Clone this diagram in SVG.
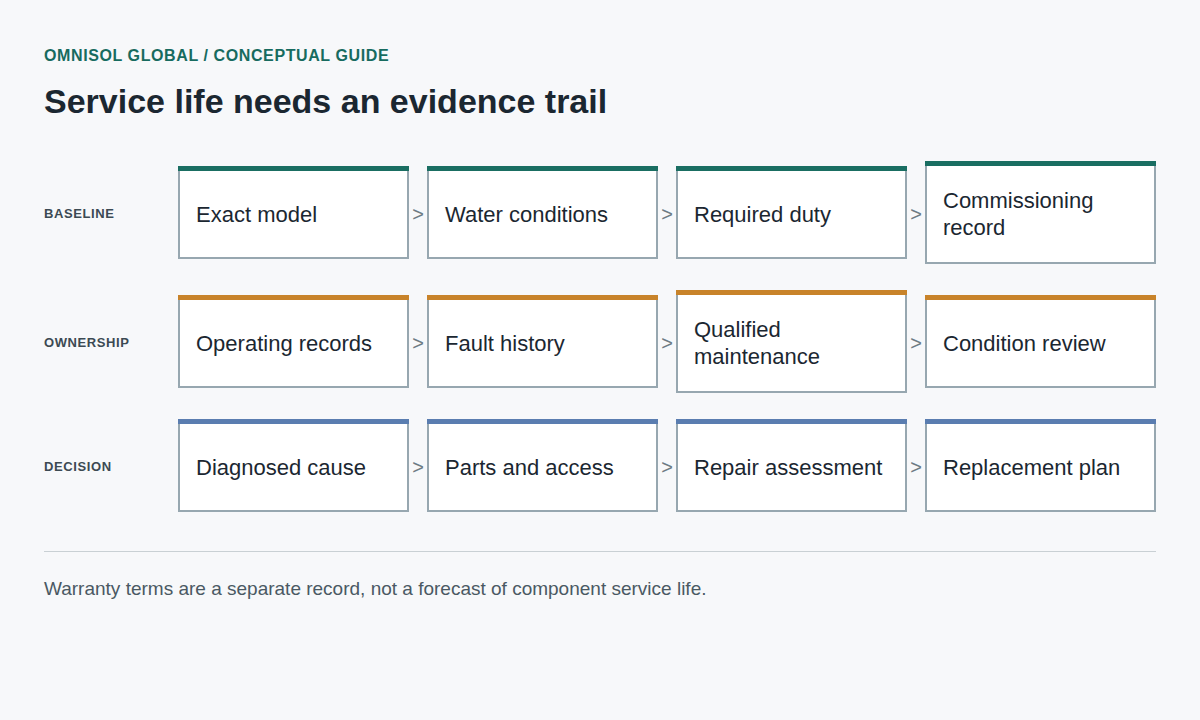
<svg xmlns="http://www.w3.org/2000/svg" width="1200" height="720" viewBox="0 0 1200 720">
<style>
.bg{fill:#f7f8fa}
.eyebrow{font-family:"Liberation Sans",Arial,sans-serif;font-size:16px;font-weight:bold;fill:#176b5f;letter-spacing:0.6px}
.title{font-family:"Liberation Sans",Arial,sans-serif;font-size:34px;font-weight:bold;fill:#1b2731}
.row{font-family:"Liberation Sans",Arial,sans-serif;font-size:13px;font-weight:bold;fill:#3c4a53;letter-spacing:0.6px}
.box{fill:#ffffff;stroke:#97a7b0;stroke-width:2}
.lbl{font-family:"Liberation Sans",Arial,sans-serif;font-size:22px;fill:#1b2731}
.arr{font-family:"Liberation Sans",Arial,sans-serif;font-size:20px;fill:#6d7b84;text-anchor:middle}
.teal{fill:#1a6e62}
.orange{fill:#c8832a}
.blue{fill:#5a7db0}
.foot{font-family:"Liberation Sans",Arial,sans-serif;font-size:19px;fill:#4a5963}
</style>
<rect class="bg" x="0" y="0" width="1200" height="720"/>
<text class="eyebrow" x="44" y="61">OMNISOL GLOBAL / CONCEPTUAL GUIDE</text>
<text class="title" x="44" y="113">Service life needs an evidence trail</text>

<text class="row" x="44" y="218">BASELINE</text>
<text class="row" x="44" y="347">OWNERSHIP</text>
<text class="row" x="44" y="471">DECISION</text>

<g id="connectors">
<text class="arr" x="418" y="221">&gt;</text>
<text class="arr" x="667" y="221">&gt;</text>
<text class="arr" x="916" y="221">&gt;</text>
<text class="arr" x="418" y="350">&gt;</text>
<text class="arr" x="667" y="350">&gt;</text>
<text class="arr" x="916" y="350">&gt;</text>
<text class="arr" x="418" y="474">&gt;</text>
<text class="arr" x="667" y="474">&gt;</text>
<text class="arr" x="916" y="474">&gt;</text>
</g>

<g id="exact-model"><rect class="box" x="179" y="167" width="229" height="91"/><rect class="teal" x="178" y="166" width="231" height="5"/><text class="lbl" x="196" y="222">Exact model</text></g>
<g id="water-conditions"><rect class="box" x="428" y="167" width="229" height="91"/><rect class="teal" x="427" y="166" width="231" height="5"/><text class="lbl" x="445" y="222">Water conditions</text></g>
<g id="required-duty"><rect class="box" x="677" y="167" width="229" height="91"/><rect class="teal" x="676" y="166" width="231" height="5"/><text class="lbl" x="694" y="222">Required duty</text></g>
<g id="commissioning-record"><rect class="box" x="926" y="162" width="229" height="101"/><rect class="teal" x="925" y="161" width="231" height="5"/><text class="lbl" x="943" y="208">Commissioning</text><text class="lbl" x="943" y="235">record</text></g>

<g id="operating-records"><rect class="box" x="179" y="296" width="229" height="91"/><rect class="orange" x="178" y="295" width="231" height="5"/><text class="lbl" x="196" y="351">Operating records</text></g>
<g id="fault-history"><rect class="box" x="428" y="296" width="229" height="91"/><rect class="orange" x="427" y="295" width="231" height="5"/><text class="lbl" x="445" y="351">Fault history</text></g>
<g id="qualified-maintenance"><rect class="box" x="677" y="291" width="229" height="101"/><rect class="orange" x="676" y="290" width="231" height="5"/><text class="lbl" x="694" y="337">Qualified</text><text class="lbl" x="694" y="364">maintenance</text></g>
<g id="condition-review"><rect class="box" x="926" y="296" width="229" height="91"/><rect class="orange" x="925" y="295" width="231" height="5"/><text class="lbl" x="943" y="351">Condition review</text></g>

<g id="diagnosed-cause"><rect class="box" x="179" y="420" width="229" height="91"/><rect class="blue" x="178" y="419" width="231" height="5"/><text class="lbl" x="196" y="475">Diagnosed cause</text></g>
<g id="parts-and-access"><rect class="box" x="428" y="420" width="229" height="91"/><rect class="blue" x="427" y="419" width="231" height="5"/><text class="lbl" x="445" y="475">Parts and access</text></g>
<g id="repair-assessment"><rect class="box" x="677" y="420" width="229" height="91"/><rect class="blue" x="676" y="419" width="231" height="5"/><text class="lbl" x="694" y="475">Repair assessment</text></g>
<g id="replacement-plan"><rect class="box" x="926" y="420" width="229" height="91"/><rect class="blue" x="925" y="419" width="231" height="5"/><text class="lbl" x="943" y="475">Replacement plan</text></g>

<line x1="44" y1="551.5" x2="1156" y2="551.5" stroke="#c9d0d4" stroke-width="1"/>
<text class="foot" x="44" y="595">Warranty terms are a separate record, not a forecast of component service life.</text>
</svg>
